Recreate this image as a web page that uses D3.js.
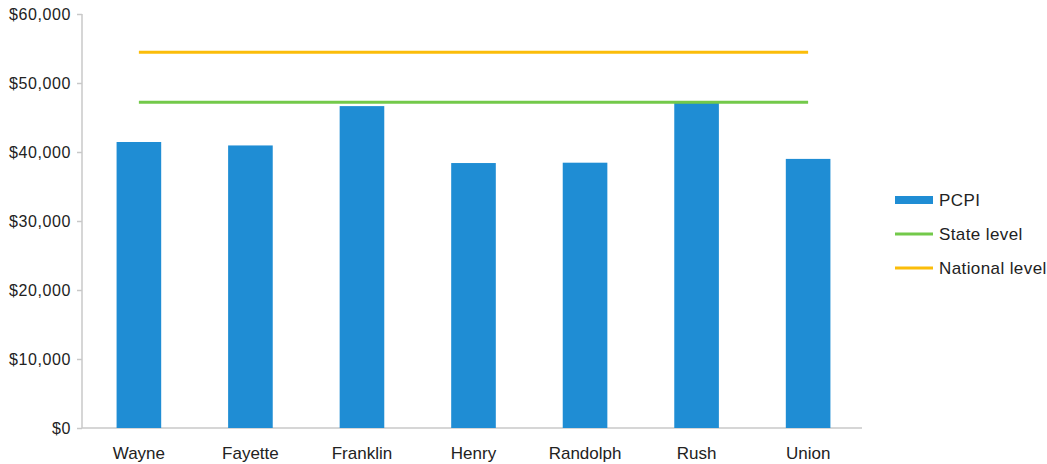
<!DOCTYPE html>
<html>
<head>
<meta charset="utf-8">
<script src="https://cdn.jsdelivr.net/npm/d3@7"></script>
<style>
  body { margin: 0; background: #fff; }
  text { font-family: "Liberation Sans", Arial, sans-serif; fill: #222; }
</style>
</head>
<body>
<svg id="chart"></svg>
<script>
// Data
const counties = ["Wayne", "Fayette", "Franklin", "Henry", "Randolph", "Rush", "Union"];
const pcpi = [41450, 40950, 46650, 38400, 38450, 47150, 39000];
const stateLevel = [47200];
const nationalLevel = [54450];
const yTicks = [0, 10000, 20000, 30000, 40000, 50000, 60000];
const legendItems = ["PCPI", "State level", "National level"];

const width = 1047;
const height = 464;
const margin = { top: 14, right: 182, bottom: 36, left: 82 };

const colors = { bar: "#1f8dd4", state: "#73c94a", national: "#fbbd0a", axis: "#c8c8c8" };

const svg = d3.select("#chart")
  .attr("width", width)
  .attr("height", height);

const x = d3.scaleBand()
  .domain(counties)
  .range([margin.left, width - margin.right])
  .paddingInner(0.6)
  .paddingOuter(0.31);

const y = d3.scaleLinear()
  .domain([0, 60000])
  .range([height - margin.bottom, margin.top]);

// y axis
const yAxis = svg.append("g")
  .attr("transform", `translate(${margin.left},0)`)
  .call(d3.axisLeft(y).tickValues(yTicks).tickSize(5).tickPadding(6)
    .tickFormat((d) => "$" + d3.format(",")(d)));
yAxis.selectAll("path, line").attr("stroke", colors.axis).attr("stroke-width", 1.5);
yAxis.select(".domain").attr("d", `M-0,${y(60000)}V${y(0)}`);
yAxis.selectAll("text")
  .style("font-size", "16px")
  .style("letter-spacing", "0.6px")
  .attr("fill", "#222");

// x axis
const xAxis = svg.append("g")
  .attr("transform", `translate(0,${y(0)})`)
  .call(d3.axisBottom(x).tickSize(0).tickPadding(19));
xAxis.select(".domain").attr("stroke", colors.axis).attr("stroke-width", 1.5)
  .attr("d", `M${margin.left},0H${width - margin.right - 3}`);
xAxis.selectAll("text").style("font-size", "17px").attr("fill", "#222");

// bars
svg.selectAll(".bar")
  .data(pcpi)
  .join("rect")
  .attr("class", "bar")
  .attr("x", (d, i) => x(counties[i]))
  .attr("y", (d) => y(d))
  .attr("width", x.bandwidth())
  .attr("height", (d) => y(0) - y(d))
  .attr("fill", colors.bar);

// reference lines from first to last band centre
const x1 = x(counties[0]) + x.bandwidth() / 2;
const x2 = x(counties[counties.length - 1]) + x.bandwidth() / 2;

svg.selectAll(".state")
  .data(stateLevel)
  .join("line")
  .attr("x1", x1).attr("x2", x2)
  .attr("y1", (d) => y(d)).attr("y2", (d) => y(d))
  .attr("stroke", colors.state)
  .attr("stroke-width", 3);

svg.selectAll(".national")
  .data(nationalLevel)
  .join("line")
  .attr("x1", x1).attr("x2", x2)
  .attr("y1", (d) => y(d)).attr("y2", (d) => y(d))
  .attr("stroke", colors.national)
  .attr("stroke-width", 3);

// legend
const legend = svg.append("g").attr("transform", "translate(895,200)");
const legendColors = [colors.bar, colors.state, colors.national];

legendItems.forEach((name, i) => {
  const g = legend.append("g").attr("transform", `translate(0,${i * 34})`);
  if (i === 0) {
    g.append("rect").attr("x", 0).attr("y", -4).attr("width", 38).attr("height", 8)
      .attr("fill", legendColors[i]);
  } else {
    g.append("line").attr("x1", 0).attr("x2", 38).attr("y1", 0).attr("y2", 0)
      .attr("stroke", legendColors[i]).attr("stroke-width", 3);
  }
  g.append("text")
    .attr("x", 44)
    .attr("dy", "0.35em")
    .style("font-size", "17px")
    .style("letter-spacing", "0.4px")
    .text(name);
});
</script>
</body>
</html>
